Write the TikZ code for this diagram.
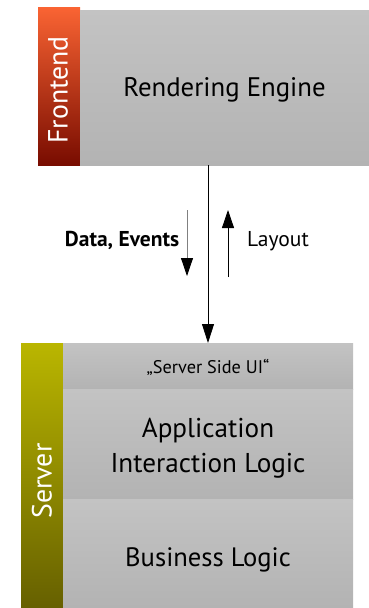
\documentclass[tikz,border=0pt]{standalone}
\usepackage{fontspec}
\setmainfont{PT Sans}
\usetikzlibrary{arrows.meta}
\definecolor{feTop}{HTML}{FA6433}
\definecolor{feBot}{HTML}{780C00}
\definecolor{svTop}{HTML}{BAB600}
\definecolor{svBot}{HTML}{666000}
\definecolor{gTop}{HTML}{C3C3C3}
\definecolor{gBot}{HTML}{B3B3B3}
\definecolor{arrowgray}{HTML}{808080}
\newcommand\lowertext[2]{\raisebox{-#1}[\height][\depth]{#2}}
\tikzset{
  layerbox/.style={anchor=north west, inner sep=0pt, outer sep=0pt, top color=gTop, bottom color=gBot, draw=none, align=center, text=black},
  sidebar/.style={anchor=north west, inner sep=0pt, outer sep=0pt, draw=none},
  sidelabel/.style={rotate=90, text=white, inner sep=0pt},
  flowlabel/.style={inner sep=0pt, text=black},
  mainarrow/.style={-{Triangle[width=12pt,length=19pt]}, line width=0.8pt, black},
  smallarrow/.style={-{Triangle[width=12pt,length=18pt]}, line width=0.8pt}
}
\begin{document}
\begin{tikzpicture}[x=1pt,y=-1pt]
\useasboundingbox (0,0) rectangle (369,608);
% Frontend
\node[sidebar, top color=feTop, bottom color=feBot, minimum width=42pt, minimum height=158pt] (febar) at (38,7) {};
\node[layerbox, minimum width=289pt, minimum height=155pt, font=\fontsize{26.8}{30}\selectfont] (render) at (80,10) {\lowertext{2pt}{Rendering Engine}};
\node[sidelabel, font=\fontsize{27.8}{30}\selectfont] (felabel) at (58,90) {Frontend};
% Server
\node[sidebar, top color=svTop, bottom color=svBot, minimum width=42pt, minimum height=265pt] (svbar) at (21,343) {};
\node[layerbox, minimum width=290pt, minimum height=46pt, font=\fontsize{18.3}{21}\selectfont] (ssui) at (63,343) {\lowertext{1pt}{„Server Side UI“}};
\node[layerbox, minimum width=290pt, minimum height=110pt, font=\fontsize{27.2}{35}\selectfont] (appl) at (63,389) {\lowertext{4pt}{\begin{tabular}{@{}c@{}}Application\\Interaction Logic\end{tabular}}};
\node[layerbox, minimum width=290pt, minimum height=109pt, font=\fontsize{26.6}{30}\selectfont] (biz) at (63,499) {\lowertext{6pt}{Business Logic}};
\node[sidelabel, font=\fontsize{27.8}{30}\selectfont] (svlabel) at (42,481) {Server};
% main connector
\draw[mainarrow] (ssui.north |- render.south) -- (ssui.north);
% small arrows
\coordinate (dtop) at (187,210);
\coordinate (dbot) at (187,276);
\coordinate (ltop) at (228,210);
\coordinate (lbot) at (228,277);
\draw[line width=0.8pt, draw=arrowgray, -{Triangle[width=12pt,length=18pt,fill=black,color=black]}] (dtop) -- (dbot);
\draw[smallarrow, black] (lbot) -- (ltop);
\node[flowlabel, font=\bfseries\fontsize{21.5}{24}\selectfont, anchor=base] (datalabel) at (122,246) {Data, Events};
\node[flowlabel, font=\fontsize{21.5}{24}\selectfont, anchor=base] (layoutlabel) at (278,246) {Layout};
\end{tikzpicture}
\end{document}
